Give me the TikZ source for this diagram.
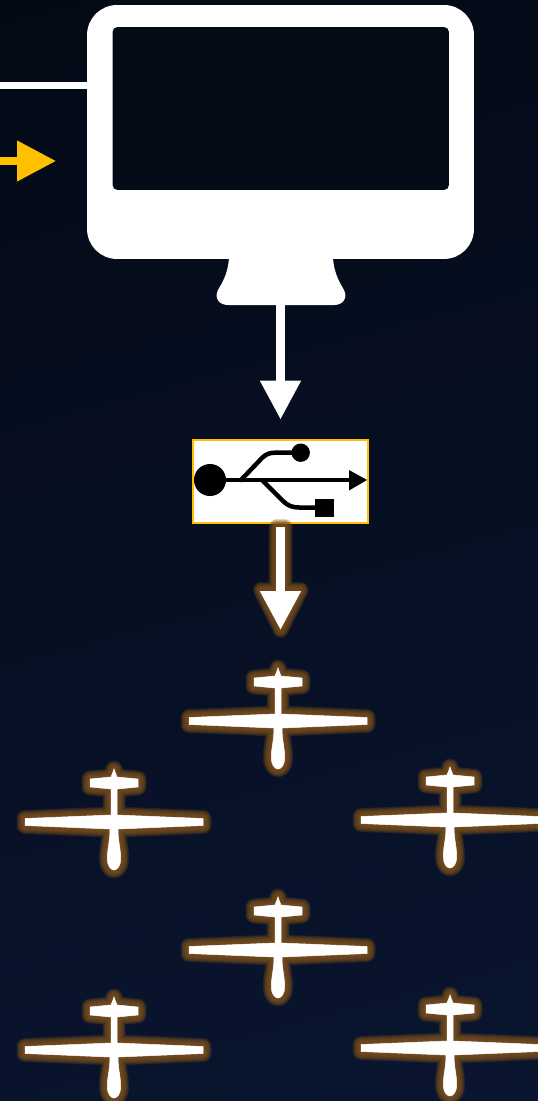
\documentclass[tikz,border=0pt]{standalone}
\usepackage{tikz}
\usetikzlibrary{arrows.meta}

\definecolor{bgtop}{HTML}{030A15}
\definecolor{bgbottom}{HTML}{0A1530}
\definecolor{screendark}{HTML}{040B17}
\definecolor{glowbrown}{HTML}{7A4F1C}
\definecolor{signalgold}{HTML}{FFC000}

\newcommand{\droneoutline}{(0,-53) -- (1,-50) -- (3,-45) -- (24,-43) -- (24,-35) -- (3,-33) -- (3,-7) -- (89,-3.5) -- (89,3.5) -- (4,7)
    .. controls (4,20) and (6.7,26) .. (6.7,37) .. controls (6.7,44) and (3,48) .. (0,48) .. controls (-3,48) and (-6.7,44) .. (-6.7,37)
    .. controls (-6.7,26) and (-4,20) .. (-4,7) -- (-89,3.5) -- (-89,-3.5) -- (-3,-7) -- (-3,-33) -- (-24,-35) -- (-24,-43) -- (-3,-45) -- (-1,-50) -- cycle}

\tikzset{
    glowline/.style={draw=glowbrown, line join=round, line cap=round, draw opacity=0.22},
    bigarrow/.style={white, line width=0.165cm, -{Triangle[length=0.78cm, width=0.78cm]}},
    dronebox/.style={minimum width=3.6cm, minimum height=2.2cm, inner sep=0pt, outer sep=0pt},
    drone/.pic={
        \foreach \w in {0.34,0.31,0.28,0.25,0.22,0.19,0.16,0.13,0.1,0.07} {
            \draw[glowline, line width=\w cm] \droneoutline;
        }
        \filldraw[white, line width=0.01cm] \droneoutline;
    }
}

\begin{document}
\begin{tikzpicture}[x=0.02cm, y=-0.02cm]
    \useasboundingbox (0,0) rectangle (537,1101);
    \clip (-5,-5) rectangle (545,1106);
    \shade[top color=bgtop, bottom color=bgbottom, shading angle=15] (-300,-100) rectangle (837,1201);

    % monitor
    \fill[white] (229,255) .. controls (229,270) and (224,280) .. (218,290) .. controls (214,298) and (219,305) .. (228,305)
        -- (334,305) .. controls (343,305) and (348,298) .. (344,290) .. controls (338,280) and (333,270) .. (333,255) -- cycle;
    \node[fill=white, rounded corners=0.6cm, minimum width=7.74cm, minimum height=5.08cm, inner sep=0pt, outer sep=0pt] (monitor) at (280.5,132) {};
    \node[fill=screendark, rounded corners=0.1cm, minimum width=6.73cm, minimum height=3.26cm, inner sep=0pt, outer sep=0pt] (screen) at (280.75,108.5) {};
    \coordinate (monitorbase) at (280.5,305);

    \coordinate (linestart) at (0,85.5);
    \coordinate (goldstart) at (0,161);
    \coordinate (goldend) at (56,161);
    \draw[white, line width=0.15cm] (linestart) -- (monitor.west |- linestart);
    \draw[signalgold, line width=0.15cm, -{Triangle[length=0.78cm, width=0.78cm]}] (goldstart) -- (goldend);

    % usb box
    \node[draw=signalgold, fill=white, line width=0.04cm, minimum width=3.52cm, minimum height=1.68cm, inner sep=0pt, outer sep=0pt] (usbbox) at (280.5,481.5) {};
    \fill[black] (210,480) circle [radius=16];
    \fill[black] (300.7,452.7) circle [radius=9.2];
    \fill[black] (315,499) rectangle (334,517);
    \draw[black, line width=0.09cm] (210,480) -- (352,480);
    \fill[black] (349,470) -- (367,480) -- (349,490.5) -- cycle;
    \draw[black, line width=0.09cm, line join=round] (240,481) -- (262,458) .. controls (266,454) and (270,452.7) .. (275,452.7) -- (300,452.7);
    \draw[black, line width=0.09cm, line join=round] (262,480) -- (283,501) .. controls (288,506) and (293,507.5) .. (299,507.5) -- (320,507.5);

    % drones
    \foreach \dname/\dx/\dy in {drone1/278/721, drone2/114/822, drone3/450/820, drone4/278/950, drone5/114/1050, drone6/450/1048} {
        \node[dronebox] (\dname) at (\dx,\dy) {};
        \pic at (\dname) {drone};
    }

    % arrow glow under the lower arrow
    \foreach \w in {0.32,0.29,0.26,0.23,0.2,0.17,0.14,0.11,0.08} {
        \draw[glowline, line width=\w cm] (276.7,527) -- (276.7,590) -- (261,590) -- (280.7,630) -- (300.7,590) -- (284.7,590) -- (284.7,527) -- cycle;
    }

    \draw[bigarrow, shorten >=0.4cm] (monitorbase) -- (usbbox.north);
    \draw[bigarrow, shorten >=0.72cm] ([yshift=-2pt]usbbox.south) -- (usbbox.south |- drone1.north);
\end{tikzpicture}
\end{document}
